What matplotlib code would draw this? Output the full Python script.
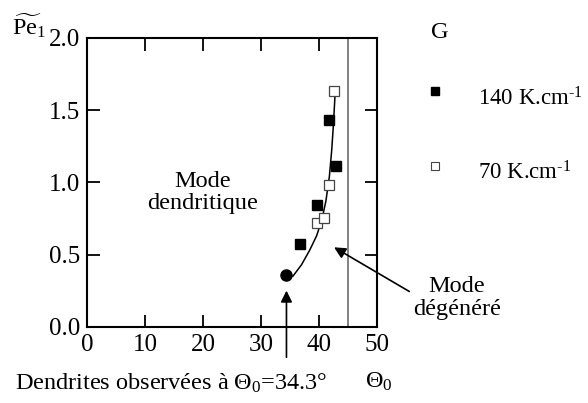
import numpy as np
import matplotlib.pyplot as plt

plt.rcParams['font.family'] = ['Liberation Serif', 'DejaVu Serif']
plt.rcParams['mathtext.fontset'] = 'custom'
plt.rcParams['mathtext.rm'] = 'Liberation Serif'
plt.rcParams['mathtext.it'] = 'Liberation Serif:italic'
plt.rcParams['axes.unicode_minus'] = False

# data
theta_140 = [36.7, 39.7, 41.8, 42.9]
pe_140 = [0.57, 0.84, 1.43, 1.11]
theta_70 = [39.7, 40.9, 41.8, 42.6]
pe_70 = [0.72, 0.75, 0.98, 1.635]
theta_obs = [34.3]
pe_obs = [0.36]
curve_theta = [35.5, 37.0, 38.4, 39.6, 40.5, 41.2, 41.8, 42.2, 42.5, 42.8]
curve_pe = [0.35, 0.43, 0.53, 0.63, 0.74, 0.87, 1.04, 1.22, 1.40, 1.62]

fs = 17.5

fig = plt.figure(figsize=(5.88, 4.03), dpi=100)
ax = fig.add_axes([0.148, 0.189, 0.493, 0.717])

ax.plot(curve_theta, curve_pe, color='black', lw=1.1)
ax.plot(theta_140, pe_140, 's', color='black', ms=7)
ax.plot(theta_70, pe_70, 's', mfc='white', mec='#444444', mew=0.9, ms=7.5)
ax.plot(theta_obs, pe_obs, 'o', color='black', ms=8)
ax.axvline(45, color='#777777', lw=1.3)

ax.set_xlim(0, 50)
ax.set_ylim(0, 2.0)
ax.set_xticks(np.arange(0, 51, 10))
ax.set_yticks(np.arange(0, 2.01, 0.5))
ax.set_yticklabels(['0.0', '0.5', '1.0', '1.5', '2.0'])
ax.tick_params(direction='in', length=9, width=1.3, top=True, right=True,
               labelsize=18, pad=5)
for s in ax.spines.values():
    s.set_linewidth(1.5)

ax.text(20, 0.93, 'Mode\ndendritique', ha='center', va='center', fontsize=fs,
        linespacing=1.1)

ax.annotate('', xy=(34.4, 0.27), xytext=(34.4, -0.23),
            arrowprops=dict(arrowstyle='-|>', color='black', lw=1.2,
                            mutation_scale=17),
            annotation_clip=False)
ax.annotate('', xy=(42.2, 0.56), xytext=(56.0, 0.235),
            arrowprops=dict(arrowstyle='-|>', color='black', lw=1.2,
                            mutation_scale=17),
            annotation_clip=False)

fig.text(457 / 588, 1 - 298 / 403, 'Mode\ndégénéré', ha='center', va='center',
         fontsize=fs, linespacing=1.1)
fig.text(15 / 588, 1 - 390 / 403, r'Dendrites observées à $\Theta_0$=34.3°',
         ha='left', va='baseline', fontsize=fs)
fig.text(365 / 588, 1 - 388 / 403, r'$\Theta_0$', ha='left', va='baseline',
         fontsize=fs)
fig.text(12 / 588, 1 - 35 / 403, r'$\widetilde{\mathrm{Pe}}_1$', ha='left',
         va='baseline', fontsize=fs)

# legend-like block on the right
fig.text(440 / 588, 1 - 32 / 403, 'G', ha='center', va='center', fontsize=fs)
fig.lines.append(plt.Line2D([435 / 588], [1 - 91 / 403], marker='s', color='black',
                            ms=5.5, transform=fig.transFigure))
fig.lines.append(plt.Line2D([435 / 588], [1 - 166 / 403], marker='s', mfc='white',
                            mec='#444444', mew=0.8, ms=5.5, transform=fig.transFigure))
fig.text(478 / 588, 1 - 106 / 403, r'140 K.cm$^{\text{-1}}$', ha='left',
         va='baseline', fontsize=16.5)
fig.text(478 / 588, 1 - 180 / 403, r'70 K.cm$^{\text{-1}}$', ha='left',
         va='baseline', fontsize=16.5)

fig.savefig('out.png', dpi=100)
